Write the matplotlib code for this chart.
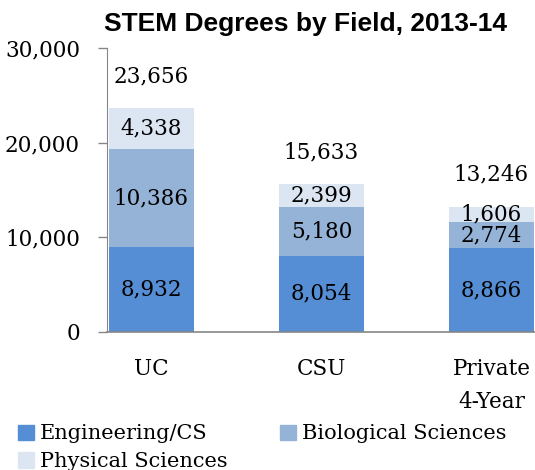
import matplotlib.pyplot as plt
from matplotlib.ticker import StrMethodFormatter
from matplotlib.patches import Patch

# Data
categories = ["UC", "CSU", "Private\n4-Year"]
engineering = [8932, 8054, 8866]
biological = [10386, 5180, 2774]
physical = [4338, 2399, 1606]
totals = [23656, 15633, 13246]

colors = ["#558ED5", "#95B3D7", "#DCE6F2"]
serif = "DejaVu Serif"
fs = 15.5

fig = plt.figure(figsize=(5.35, 4.7), dpi=100)
ax = fig.add_axes([107 / 535, 138 / 470, 428 / 535, 284 / 470])

x = range(len(categories))
w = 0.5
bottoms2 = engineering
bottoms3 = [a + b for a, b in zip(engineering, biological)]

b1 = ax.bar(x, engineering, w, color=colors[0], label="Engineering/CS")
b2 = ax.bar(x, biological, w, bottom=bottoms2, color=colors[1], label="Biological Sciences")
b3 = ax.bar(x, physical, w, bottom=bottoms3, color=colors[2], label="Physical Sciences")

for bars, vals in [(b1, engineering), (b2, biological), (b3, physical)]:
    ax.bar_label(bars, labels=[f"{v:,}" for v in vals], label_type="center",
                 fontsize=fs, family=serif, color="black")

for i, t in enumerate(totals):
    ax.annotate(f"{t:,}", (i, t), xytext=(0, 23), textcoords="offset points",
                ha="center", va="center", fontsize=fs, family=serif)

ax.set_xlim(-0.26, 2.256)
ax.set_ylim(0, 30000)
ax.set_yticks([0, 10000, 20000, 30000])
ax.yaxis.set_major_formatter(StrMethodFormatter("{x:,.0f}"))
ax.set_xticks(list(x))
ax.set_xticklabels(categories, fontsize=fs, family=serif, linespacing=1.6)

for lab in ax.get_yticklabels():
    lab.set_family(serif)
    lab.set_fontsize(fs)

ax.tick_params(axis="y", length=6.5, width=1, color="#868686", pad=13)
ax.tick_params(axis="x", length=0, pad=19)
ax.spines["top"].set_visible(False)
ax.spines["right"].set_visible(False)
ax.spines["left"].set_color("#868686")
ax.spines["bottom"].set_color("#868686")
ax.spines["bottom"].set_linewidth(1.2)

fig.text(305 / 535, 1 - 24 / 470, "STEM Degrees by Field, 2013-14",
         ha="center", va="center", fontsize=19, fontweight="bold",
         family="Liberation Sans")

handles = [Patch(color=colors[0]), Patch(color=colors[2]), Patch(color=colors[1])]
labels = ["Engineering/CS", "Physical Sciences", "Biological Sciences"]
fig.legend(handles, labels, ncol=2, loc="upper left",
           bbox_to_anchor=(8 / 535, 1 - 414 / 470), frameon=False,
           prop={"family": serif, "size": 15}, handlelength=0.75, handleheight=0.75,
           handletextpad=0.3, columnspacing=2.5, labelspacing=0.42, borderpad=0)

fig.savefig("out.png", dpi=100)
